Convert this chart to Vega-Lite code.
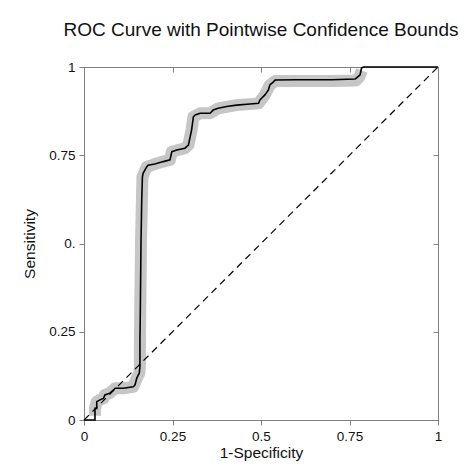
{
  "$schema": "https://vega.github.io/schema/vega-lite/v6.json",
  "width": 354,
  "height": 353,
  "autosize": {"type": "none"},
  "padding": {"left": 84, "top": 67, "right": 26, "bottom": 52},
  "background": "white",
  "title": {
    "text": "ROC Curve with Pointwise Confidence Bounds",
    "font": "Liberation Sans",
    "fontSize": 19,
    "fontWeight": "normal",
    "color": "#111111",
    "anchor": "middle",
    "frame": "group",
    "baseline": "alphabetic",
    "offset": 5
  },
  "config": {
    "view": {"stroke": "#808080", "strokeWidth": 1},
    "axis": {
      "labelFont": "Liberation Sans",
      "titleFont": "Liberation Sans",
      "labelFontSize": 13.5,
      "titleFontSize": 15.5,
      "titleFontWeight": "normal",
      "labelColor": "#111111",
      "titleColor": "#111111",
      "domainColor": "#808080",
      "tickColor": "#808080",
      "grid": false
    }
  },
  "datasets": {
    "roc": [
      {"fpr": 0, "tpr": 0},
      {"fpr": 0.031, "tpr": 0},
      {"fpr": 0.031, "tpr": 0.033},
      {"fpr": 0.036, "tpr": 0.033},
      {"fpr": 0.036, "tpr": 0.052},
      {"fpr": 0.045, "tpr": 0.057},
      {"fpr": 0.055, "tpr": 0.061},
      {"fpr": 0.059, "tpr": 0.071},
      {"fpr": 0.073, "tpr": 0.076},
      {"fpr": 0.083, "tpr": 0.085},
      {"fpr": 0.088, "tpr": 0.09},
      {"fpr": 0.111, "tpr": 0.09},
      {"fpr": 0.139, "tpr": 0.094},
      {"fpr": 0.144, "tpr": 0.099},
      {"fpr": 0.149, "tpr": 0.118},
      {"fpr": 0.153, "tpr": 0.127},
      {"fpr": 0.156, "tpr": 0.132},
      {"fpr": 0.158, "tpr": 0.151},
      {"fpr": 0.158, "tpr": 0.23},
      {"fpr": 0.159, "tpr": 0.3},
      {"fpr": 0.161, "tpr": 0.5},
      {"fpr": 0.163, "tpr": 0.62},
      {"fpr": 0.165, "tpr": 0.689},
      {"fpr": 0.167, "tpr": 0.699},
      {"fpr": 0.177, "tpr": 0.717},
      {"fpr": 0.181, "tpr": 0.722},
      {"fpr": 0.2, "tpr": 0.725},
      {"fpr": 0.224, "tpr": 0.732},
      {"fpr": 0.243, "tpr": 0.737},
      {"fpr": 0.248, "tpr": 0.76},
      {"fpr": 0.262, "tpr": 0.765},
      {"fpr": 0.285, "tpr": 0.77},
      {"fpr": 0.295, "tpr": 0.779},
      {"fpr": 0.304, "tpr": 0.822},
      {"fpr": 0.309, "tpr": 0.859},
      {"fpr": 0.314, "tpr": 0.864},
      {"fpr": 0.328, "tpr": 0.869},
      {"fpr": 0.356, "tpr": 0.869},
      {"fpr": 0.365, "tpr": 0.878},
      {"fpr": 0.379, "tpr": 0.883},
      {"fpr": 0.403, "tpr": 0.888},
      {"fpr": 0.431, "tpr": 0.892},
      {"fpr": 0.469, "tpr": 0.895},
      {"fpr": 0.493, "tpr": 0.897},
      {"fpr": 0.497, "tpr": 0.907},
      {"fpr": 0.511, "tpr": 0.921},
      {"fpr": 0.521, "tpr": 0.935},
      {"fpr": 0.525, "tpr": 0.949},
      {"fpr": 0.535, "tpr": 0.958},
      {"fpr": 0.54, "tpr": 0.963},
      {"fpr": 0.6, "tpr": 0.964},
      {"fpr": 0.7, "tpr": 0.964},
      {"fpr": 0.766, "tpr": 0.966},
      {"fpr": 0.77, "tpr": 0.969},
      {"fpr": 0.78, "tpr": 0.978},
      {"fpr": 0.784, "tpr": 0.997},
      {"fpr": 0.789, "tpr": 1},
      {"fpr": 1, "tpr": 1}
    ],
    "band": [
      {"fpr": 0.031, "tpr": 0.012},
      {"fpr": 0.031, "tpr": 0.033},
      {"fpr": 0.036, "tpr": 0.052},
      {"fpr": 0.045, "tpr": 0.057},
      {"fpr": 0.055, "tpr": 0.061},
      {"fpr": 0.059, "tpr": 0.071},
      {"fpr": 0.073, "tpr": 0.076},
      {"fpr": 0.088, "tpr": 0.09},
      {"fpr": 0.111, "tpr": 0.09},
      {"fpr": 0.139, "tpr": 0.094},
      {"fpr": 0.149, "tpr": 0.118},
      {"fpr": 0.156, "tpr": 0.132},
      {"fpr": 0.158, "tpr": 0.151},
      {"fpr": 0.158, "tpr": 0.23},
      {"fpr": 0.161, "tpr": 0.5},
      {"fpr": 0.165, "tpr": 0.689},
      {"fpr": 0.177, "tpr": 0.717},
      {"fpr": 0.2, "tpr": 0.725},
      {"fpr": 0.224, "tpr": 0.732},
      {"fpr": 0.243, "tpr": 0.737},
      {"fpr": 0.248, "tpr": 0.76},
      {"fpr": 0.285, "tpr": 0.77},
      {"fpr": 0.295, "tpr": 0.779},
      {"fpr": 0.304, "tpr": 0.822},
      {"fpr": 0.309, "tpr": 0.859},
      {"fpr": 0.328, "tpr": 0.869},
      {"fpr": 0.356, "tpr": 0.869},
      {"fpr": 0.379, "tpr": 0.883},
      {"fpr": 0.431, "tpr": 0.892},
      {"fpr": 0.493, "tpr": 0.897},
      {"fpr": 0.511, "tpr": 0.921},
      {"fpr": 0.525, "tpr": 0.949},
      {"fpr": 0.54, "tpr": 0.96},
      {"fpr": 0.6, "tpr": 0.96},
      {"fpr": 0.7, "tpr": 0.96},
      {"fpr": 0.768, "tpr": 0.962},
      {"fpr": 0.778, "tpr": 0.972},
      {"fpr": 0.785, "tpr": 0.99}
    ],
    "diag": [
      {"fpr": 0, "tpr": 0},
      {"fpr": 1, "tpr": 1}
    ]
  },
  "layer": [
    {
      "data": {"name": "band"},
      "mark": {"type": "line", "color": "#c6c6c6", "strokeWidth": 12, "strokeJoin": "round", "strokeCap": "butt", "clip": true},
      "encoding": {
        "x": {
          "field": "fpr", "type": "quantitative",
          "scale": {"domain": [0, 1], "nice": false, "zero": false},
          "axis": {"orient": "bottom", "values": [0, 0.25, 0.5, 0.75, 1], "format": ".2~f", "title": "1-Specificity", "tickSize": 5, "labelPadding": 4, "titlePadding": 3, "labelFlush": false}
        },
        "y": {
          "field": "tpr", "type": "quantitative",
          "scale": {"domain": [0, 1], "nice": false, "zero": false},
          "axis": {"orient": "left", "values": [0, 0.25, 0.5, 0.75, 1], "format": ".2~f", "labelExpr": "datum.value == 0.5 ? '0.' : datum.label", "title": "Sensitivity", "tickSize": 5, "labelPadding": 4, "titlePadding": 11, "labelFlush": false}
        },
        "order": {"value": null}
      }
    },
    {
      "data": {"name": "diag"},
      "mark": {"type": "line", "color": "#000000", "strokeWidth": 1.2, "strokeDash": [7, 5]},
      "encoding": {
        "x": {
          "field": "fpr", "type": "quantitative",
          "axis": {"orient": "top", "values": [0, 0.25, 0.5, 0.75, 1], "labels": false, "title": null, "tickSize": -5}
        },
        "y": {
          "field": "tpr", "type": "quantitative",
          "axis": {"orient": "right", "values": [0, 0.25, 0.5, 0.75, 1], "labels": false, "title": null, "tickSize": -5}
        },
        "order": {"value": null}
      }
    },
    {
      "data": {"name": "roc"},
      "mark": {"type": "line", "color": "#000000", "strokeWidth": 1.6, "strokeJoin": "miter"},
      "encoding": {
        "x": {"field": "fpr", "type": "quantitative", "axis": null},
        "y": {"field": "tpr", "type": "quantitative", "axis": null},
        "order": {"value": null}
      }
    }
  ],
  "resolve": {"axis": {"x": "independent", "y": "independent"}}
}
